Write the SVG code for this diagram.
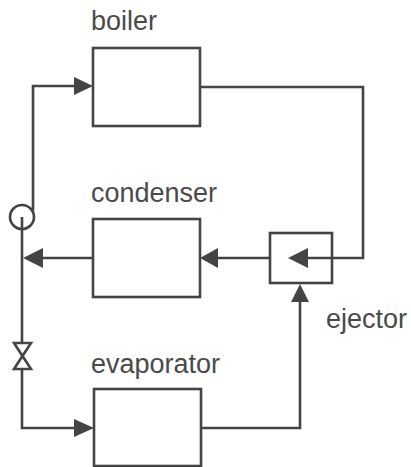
<svg xmlns="http://www.w3.org/2000/svg" width="411" height="467" viewBox="0 0 411 467">
<defs>
<style>
.box{fill:none;stroke:#444;stroke-width:2.6}
.ln{fill:none;stroke:#444;stroke-width:2.6}
.ah{fill:#444;stroke:none}
.lbl{font-family:"Liberation Sans",Arial,sans-serif;font-size:27px;fill:#4a4a4a}
</style>
</defs>
<rect width="411" height="467" fill="#fff"/>
<g id="boiler">
<rect class="box" x="93" y="48" width="107" height="78"/>
<text class="lbl" x="91" y="30">boiler</text>
</g>
<g id="condenser">
<rect class="box" x="93" y="219" width="107" height="78"/>
<text class="lbl" x="91" y="202">condenser</text>
</g>
<g id="ejector">
<rect class="box" x="270" y="233" width="62" height="50"/>
<text class="lbl" x="326" y="328">ejector</text>
</g>
<g id="evaporator">
<rect class="box" x="94" y="389" width="107" height="77"/>
<text class="lbl" x="91" y="373">evaporator</text>
</g>
<g id="pump">
<circle class="ln" cx="22" cy="217" r="12"/>
</g>
<g id="valve">
<path class="ln" d="M14,343 L31,343 L14,369 L31,369 Z" stroke-linejoin="miter"/>
</g>
<g id="connectors">
<path class="ln" d="M200,87 H363 V258 H300"/>
<polygon class="ah" points="288,258 308,248 308,268"/>
<path class="ln" d="M33,211 V86 H80"/>
<polygon class="ah" points="93,86 74,77 74,95"/>
<path class="ln" d="M270,258 H210"/>
<polygon class="ah" points="200,258 218,248 218,268"/>
<path class="ln" d="M93,258 H30"/>
<polygon class="ah" points="23,258 43,248 43,268"/>
<path class="ln" d="M22,217 V343 M22,369 V428 H80"/>
<polygon class="ah" points="94,428 74,419 74,437"/>
<path class="ln" d="M201,428 H300 V295"/>
<polygon class="ah" points="300,284 291,302 309,302"/>
</g>
</svg>
